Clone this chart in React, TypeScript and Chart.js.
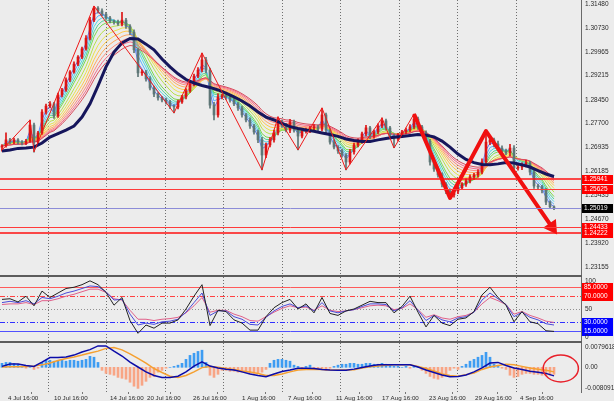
import React, { useEffect, useRef } from "react";
import { Chart, registerables } from "chart.js";
Chart.register(...registerables);

const FONT = '"Liberation Sans", Arial, sans-serif';
const BG = "#ececec";
const PIP = 0.0001;

// ---------- main panel (price) ----------
const firstOpen = 1.2695;
const closes = [
  1.2699, 1.2718, 1.2711, 1.2718, 1.2711, 1.2708, 1.2714, 1.2765, 1.2711, 1.2740,
  1.2806, 1.2825, 1.2832, 1.2794, 1.2860, 1.2876, 1.2908, 1.2933, 1.2958, 1.2980,
  1.3006, 1.3040, 1.3097, 1.3135, 1.3126, 1.3116, 1.3104, 1.3094, 1.3091, 1.3085,
  1.3097, 1.3078, 1.3059, 1.3003, 1.2930, 1.2933, 1.2911, 1.2882, 1.2863, 1.2851,
  1.2844, 1.2838, 1.2825, 1.2822, 1.2838, 1.2854, 1.2873, 1.2895, 1.2920, 1.2939,
  1.2971, 1.2939, 1.2828, 1.2797, 1.2854, 1.2857, 1.2854, 1.2844, 1.2832, 1.2819,
  1.2797, 1.2781, 1.2762, 1.2743, 1.2718, 1.2670, 1.2702, 1.2718, 1.2740, 1.2775,
  1.2765, 1.2749, 1.2775, 1.2749, 1.2730, 1.2746, 1.2749, 1.2756, 1.2759, 1.2752,
  1.2797, 1.2749, 1.2711, 1.2695, 1.2683, 1.2670, 1.2648, 1.2680, 1.2702, 1.2714,
  1.2737, 1.2756, 1.2730, 1.2743, 1.2762, 1.2778, 1.2756, 1.2730, 1.2721, 1.2733,
  1.2743, 1.2749, 1.2759, 1.2784, 1.2759, 1.2740, 1.2714, 1.2648, 1.2626, 1.2607,
  1.2578, 1.2556, 1.2544, 1.2556, 1.2566, 1.2578, 1.2588, 1.2601, 1.2607, 1.2616,
  1.2648, 1.2711, 1.2718, 1.2705, 1.2692, 1.2683, 1.2677, 1.2692, 1.2629, 1.2632,
  1.2639, 1.2645, 1.2616, 1.2572, 1.2569, 1.2559, 1.2521, 1.2506, 1.2502,
];
// upper / lower wick lengths in pips
const wickUp = [
  4, 22, 5, 6, 4, 5, 6, 16, 6, 5,
  8, 6, 7, 5, 6, 5, 6, 4, 7, 5,
  6, 8, 9, 6, 5, 7, 6, 5, 4, 6,
  25, 6, 5, 7, 4, 6, 5, 7, 6, 5,
  4, 6, 5, 4, 6, 5, 7, 5, 6, 8,
  22, 8, 6, 9, 10, 6, 5, 7, 6, 5,
  6, 5, 7, 5, 6, 8, 6, 7, 9, 16,
  6, 5, 8, 6, 5, 7, 6, 5, 7, 6,
  22, 6, 5, 7, 5, 6, 5, 8, 6, 7,
  6, 8, 5, 6, 7, 10, 6, 5, 7, 6,
  5, 6, 7, 16, 6, 5, 7, 6, 5, 6,
  7, 5, 6, 8, 6, 5, 7, 6, 5, 8,
  10, 35, 8, 6, 9, 7, 6, 12, 8, 10,
  6, 8, 5, 7, 6, 5, 6, 4, 3,
];
const wickDn = [
  13, 4, 6, 5, 7, 6, 5, 4, 32, 6,
  5, 7, 6, 8, 5, 6, 5, 6, 4, 5,
  5, 4, 6, 5, 7, 6, 5, 6, 7, 5,
  6, 7, 8, 9, 12, 8, 7, 6, 8, 7,
  6, 7, 8, 19, 6, 5, 6, 5, 6, 5,
  6, 9, 10, 16, 7, 6, 8, 7, 6, 8,
  7, 6, 8, 7, 9, 47, 8, 6, 7, 6,
  7, 6, 8, 7, 44, 6, 7, 8, 6, 7,
  6, 8, 7, 6, 8, 7, 25, 6, 7, 6,
  7, 6, 8, 7, 6, 5, 7, 8, 28, 6,
  7, 6, 5, 6, 8, 7, 9, 10, 8, 7,
  9, 8, 10, 7, 8, 6, 7, 6, 8, 7,
  6, 7, 8, 9, 7, 8, 6, 10, 9, 7,
  8, 7, 9, 8, 7, 9, 8, 6, 5,
];
// slow moving average (navy), one value every 2 bars
const navyMA = [
  1.2683, 1.2686, 1.2691, 1.2692, 1.2695, 1.2708, 1.2727, 1.2738, 1.2749, 1.2762,
  1.2790, 1.2832, 1.2889, 1.2949, 1.2996, 1.3025, 1.3039, 1.3037, 1.3021, 1.3003,
  1.2974, 1.2949, 1.2927, 1.2909, 1.2898, 1.2890, 1.2884, 1.2876, 1.2866, 1.2854,
  1.2841, 1.2825, 1.2806, 1.2790, 1.2781, 1.2770, 1.2760, 1.2754, 1.2749, 1.2745,
  1.2740, 1.2735, 1.2729, 1.2721, 1.2716, 1.2713, 1.2713, 1.2718, 1.2722, 1.2726,
  1.2729, 1.2732, 1.2735, 1.2733, 1.2727, 1.2714, 1.2695, 1.2673, 1.2656, 1.2646,
  1.2640, 1.2639, 1.2642, 1.2646, 1.2645, 1.2639, 1.2632, 1.2621, 1.2610, 1.2602,
];
const ribbonPeriods = [2, 3, 4, 5, 6, 8, 10, 12, 14, 16, 18, 20];
const ribbonColors = [
  "#5b7cff", "#58b4ff", "#4fd6e6", "#52d49a", "#7ad84e", "#b8e04a",
  "#e8e24a", "#ffc84a", "#ffa860", "#ff8a7a", "#f46a8a", "#d84a5a",
];
const zigBars = [0, 7, 8, 23, 43, 50, 65, 69, 74, 80, 86, 95, 98, 103];
const zigPrices = [1.2686, 1.2781, 1.2680, 1.3142, 1.2803, 1.2993, 1.2623, 1.2790, 1.2686, 1.2819, 1.2623, 1.2787, 1.2692, 1.2800];
const thickBars = [103, 112, 121, 137.5];
const thickPrices = [1.2800, 1.2534, 1.2746, 1.2442];
const levelPrices = [1.25941, 1.25625, 1.25019, 1.24433, 1.24222];
const levelLabels = ["1.25941", "1.25625", "1.25019", "1.24433", "1.24222"];
const levelColors = ["#ff1010", "#ff3a3a", "#8c8cd8", "#ff3a3a", "#ff1010"];
const levelWidths = [1.5, 1, 1, 1, 1.5];
const levelBoxes = ["#ff0000", "#ff0000", "#000000", "#ff0000", "#ff0000"];
const priceTicks = [1.3148, 1.3073, 1.29965, 1.29215, 1.2845, 1.277, 1.26935, 1.26185, 1.25435, 1.2467, 1.2392, 1.23155];
const MAIN_MIN = 1.22903;
const MAIN_MAX = 1.31607;

// ---------- RSI panel (one value every 2 bars) ----------
const rsiFast = [
  65, 66, 61, 70, 55, 78, 68, 75, 82, 84,
  88, 94, 88, 76, 56, 68, 32, 12, 25, 20,
  28, 28, 33, 50, 70, 88, 24, 48, 46, 33,
  28, 17, 17, 38, 52, 60, 65, 50, 58, 44,
  68, 43, 40, 47, 50, 56, 62, 60, 60, 44,
  54, 70, 45, 22, 40, 28, 24, 34, 36, 46,
  72, 84, 68, 56, 30, 46, 30, 27, 16, 15,
];
const rsiMid = [
  60, 62, 60, 63, 58, 68, 66, 70, 75, 78,
  82, 86, 85, 77, 64, 65, 42, 25, 28, 26,
  30, 31, 34, 45, 60, 75, 40, 47, 47, 38,
  34, 26, 25, 37, 47, 54, 58, 52, 55, 47,
  60, 47, 44, 47, 49, 54, 58, 58, 57, 47,
  52, 63, 48, 32, 40, 33, 30, 36, 38, 45,
  64, 75, 66, 57, 38, 45, 37, 33, 27, 25,
];
const rsiSlow = [
  57, 58, 58, 60, 57, 63, 63, 66, 70, 73,
  77, 81, 81, 76, 66, 64, 48, 34, 34, 32,
  34, 35, 37, 44, 55, 68, 45, 48, 48, 42,
  38, 32, 31, 38, 45, 51, 55, 52, 53, 48,
  55, 48, 46, 47, 49, 52, 55, 56, 55, 49,
  51, 58, 49, 37, 41, 36, 34, 38, 40, 45,
  58, 68, 63, 57, 42, 46, 40, 36, 31, 29,
];
const rsiLevels = [85, 70, 50, 30, 15];
const rsiLevelColors = ["#ff5a5a", "#ff4040", "#909090", "#3030ff", "#5050ff"];
const rsiLevelDash = [[], [5, 2, 1, 2], [1, 2], [5, 2, 1, 2], []];

// ---------- MACD panel ----------
const macdLine = [
  0.0003, 0.0011, 0.0011, 0.0006, 0.0003, 0.0017, 0.0032, 0.0032, 0.0034, 0.0040,
  0.0050, 0.0058, 0.0070, 0.0070, 0.0053, 0.0037, 0.0017, 0.0001, -0.0015, -0.0027,
  -0.0033, -0.0033, -0.0029, -0.0015, 0.0004, 0.0018, 0.0004, -0.0002, -0.0006, -0.0009,
  -0.0015, -0.0022, -0.0027, -0.0031, -0.0022, -0.0014, -0.0009, -0.0003, -0.0003, -0.0004,
  -0.0007, -0.0009, -0.0010, -0.0010, -0.0006, -0.0001, 0.0004, 0.0008, 0.0008, 0.0008,
  0.0008, 0.0008, 0.0001, -0.0009, -0.0017, -0.0025, -0.0031, -0.0030, -0.0025, -0.0015,
  -0.0002, 0.0014, 0.0016, 0.0006, -0.0002, -0.0007, -0.0013, -0.0016, -0.0020, -0.0028,
];
const macdSignal = [
  0.0001, 0.0002, 0.0002, 0.0003, 0.0004, 0.0008, 0.0014, 0.0022, 0.0029, 0.0034,
  0.0040, 0.0047, 0.0053, 0.0062, 0.0065, 0.0057, 0.0044, 0.0029, 0.0014, -0.0004,
  -0.0017, -0.0029, -0.0033, -0.0027, -0.0015, -0.0001, 0.0003, 0.0000, -0.0004, -0.0007,
  -0.0012, -0.0015, -0.0020, -0.0027, -0.0027, -0.0022, -0.0015, -0.0009, -0.0007, -0.0006,
  -0.0007, -0.0009, -0.0009, -0.0009, -0.0008, -0.0002, 0.0002, 0.0004, 0.0007, 0.0008,
  0.0008, 0.0008, 0.0003, -0.0004, -0.0012, -0.0022, -0.0027, -0.0029, -0.0024, -0.0019,
  -0.0007, 0.0001, 0.0006, 0.0010, 0.0008, 0.0003, -0.0002, -0.0006, -0.0010, -0.0015,
];
const macdHist = [
  0.0013, 0.0016, 0.0016, 0.0013, 0.0010, 0.0003, -0.0003, 0.0003, -0.0007, -0.0003,
  0.0016, 0.0023, 0.0023, 0.0020, 0.0020, 0.0023, 0.0020, 0.0023, 0.0023, 0.0020,
  0.0023, 0.0026, 0.0036, 0.0033, 0.0016, -0.0010, -0.0020, -0.0023, -0.0026, -0.0033,
  -0.0036, -0.0039, -0.0049, -0.0062, -0.0069, -0.0059, -0.0046, -0.0033, -0.0030, -0.0016,
  -0.0010, -0.0003, 0, 0.0003, 0.0007, 0.0013, 0.0026, 0.0039, 0.0046, 0.0052,
  0.0056, 0.0016, -0.0026, -0.0033, -0.0023, -0.0010, -0.0010, -0.0013, -0.0013, -0.0016,
  -0.0016, -0.0016, -0.0020, -0.0020, -0.0020, -0.0016, -0.0007, 0.0013, 0.0023, 0.0026,
  0.0026, 0.0023, 0.0020, 0.0007, 0.0003, -0.0003, 0.0003, 0.0007, -0.0003, -0.0007,
  -0.0007, -0.0010, -0.0003, 0.0003, 0.0007, 0.0010, 0.0010, 0.0013, 0.0013, 0.0010,
  0.0010, 0.0013, 0.0013, 0.0010, 0.0010, 0.0013, 0.0010, 0.0007, 0.0003, 0.0003,
  0, 0.0003, -0.0003, 0.0003, 0, -0.0010, -0.0020, -0.0030, -0.0036, -0.0039,
  -0.0033, -0.0023, -0.0010, -0.0003, -0.0007, 0.0003, 0.0010, 0.0020, 0.0026, 0.0033,
  0.0039, 0.0049, 0.0033, 0.0010, 0.0003, -0.0003, -0.0007, -0.0026, -0.0033, -0.0030,
  -0.0023, -0.0020, -0.0020, -0.0023, -0.0023, -0.0026, -0.0026, -0.0026, -0.0023,
];
const MACD_MAX = 0.0079618;
const MACD_MIN = -0.008091;
const ellipseBars = [135.3, 144.1];
const ellipseVals = [0.004, -0.0048];

// ---------- time axis ----------
const xLabels = [
  "4 Jul 16:00", "10 Jul 16:00", "14 Jul 16:00", "20 Jul 16:00", "26 Jul 16:00", "1 Aug 16:00",
  "7 Aug 16:00", "11 Aug 16:00", "17 Aug 16:00", "23 Aug 16:00", "29 Aug 16:00", "4 Sep 16:00",
];
const xLabelBars = [1.5, 13, 27, 36.25, 47.75, 60, 71.5, 83.5, 95, 106.75, 118.25, 129.5];
const gridBars = [11.4, 26.05, 40.7, 55.3, 69.9, 84.6, 99.2, 113.8, 128.4];
const X_MIN = -0.5;
const X_MAX = 144.75;

const BULL = "#dc1414";
const BEAR = "#5e7676";

function ema(src: number[], p: number) {
  const k = 2 / (p + 1);
  const out: number[] = [];
  src.forEach((v, i) => out.push(i === 0 ? v : out[i - 1] + k * (v - out[i - 1])));
  return out;
}

function xAxis(show: boolean): any {
  return {
    type: "linear",
    min: X_MIN,
    max: X_MAX,
    bounds: "data",
    offset: false,
    display: show,
    grid: { display: true, drawOnChartArea: false, drawTicks: true, tickLength: 2, color: "#777" },
    border: { display: false },
    afterBuildTicks: (s: any) => {
      s.ticks = xLabelBars.map((v) => ({ value: v }));
    },
    afterFit: (s: any) => {
      s.height = show ? 9 : 0;
    },
    ticks: {
      autoSkip: false,
      maxRotation: 0,
      minRotation: 0,
      align: "start",
      padding: 1,
      font: { family: FONT, size: 6.2 },
      color: "#2a2a2a",
      callback: (_v: any, i: number) => xLabels[i],
    },
  };
}

function yAxis(min: number, max: number): any {
  return {
    type: "linear",
    position: "right",
    min,
    max,
    bounds: "data",
    grid: { display: false },
    ticks: { display: false },
    border: { display: true, color: "#6a6a6a", width: 1 },
    afterFit: (s: any) => {
      s.width = 33;
    },
  };
}

const vGrid = {
  id: "vgrid",
  beforeDatasetsDraw(chart: any) {
    const { ctx, chartArea: ca, scales } = chart;
    ctx.save();
    ctx.strokeStyle = "#6e6e6e";
    ctx.lineWidth = 1;
    ctx.setLineDash([1, 2]);
    for (const b of gridBars) {
      const px = Math.round(scales.x.getPixelForValue(b)) + 0.5;
      ctx.beginPath();
      ctx.moveTo(px, ca.top);
      ctx.lineTo(px, ca.bottom);
      ctx.stroke();
    }
    ctx.restore();
  },
};

function hLines(id: string, values: number[], colors: string[], widths: number[], dashes: number[][], after: boolean) {
  const draw = (chart: any) => {
    const { ctx, chartArea: ca, scales } = chart;
    ctx.save();
    values.forEach((v, k) => {
      const y = Math.round(scales.y.getPixelForValue(v)) + (widths[k] % 2 === 1 ? 0.5 : 0);
      ctx.strokeStyle = colors[k];
      ctx.lineWidth = widths[k];
      ctx.setLineDash(dashes[k] || []);
      ctx.beginPath();
      ctx.moveTo(ca.left, y);
      ctx.lineTo(ca.right, y);
      ctx.stroke();
    });
    ctx.restore();
  };
  return after ? { id, afterDatasetsDraw: draw } : { id, beforeDatasetsDraw: draw };
}

type Lbl = { value: number; text: string; bg?: string; baseline?: string };
function rightLabels(id: string, labels: Lbl[]) {
  return {
    id,
    afterDraw(chart: any) {
      const { ctx, chartArea: ca, scales } = chart;
      ctx.save();
      ctx.font = `6.5px ${FONT}`;
      ctx.textAlign = "left";
      for (const l of labels) {
        let y = scales.y.getPixelForValue(l.value);
        if (l.bg) {
          const yy = Math.round(y);
          ctx.fillStyle = l.bg;
          ctx.fillRect(ca.right + 1, yy - 4, 31, 9);
          ctx.fillStyle = "#ffffff";
          ctx.textBaseline = "middle";
          ctx.fillText(l.text, ca.right + 3, yy + 0.5);
        } else {
          ctx.fillStyle = "#2a2a2a";
          if (l.baseline === "top") {
            ctx.textBaseline = "top";
            y += 1;
          } else if (l.baseline === "bottom") {
            ctx.textBaseline = "bottom";
            y -= 1;
          } else ctx.textBaseline = "middle";
          ctx.fillText(l.text, ca.right + 4, y);
        }
      }
      ctx.restore();
    },
  };
}

const ellipsePlugin = {
  id: "ellipse",
  afterDatasetsDraw(chart: any) {
    const { ctx, scales } = chart;
    const x0 = scales.x.getPixelForValue(ellipseBars[0]);
    const x1 = scales.x.getPixelForValue(ellipseBars[1]);
    const y0 = scales.y.getPixelForValue(ellipseVals[0]);
    const y1 = scales.y.getPixelForValue(ellipseVals[1]);
    ctx.save();
    ctx.strokeStyle = "#e8202a";
    ctx.lineWidth = 1.5;
    ctx.beginPath();
    ctx.ellipse((x0 + x1) / 2, (y0 + y1) / 2, Math.abs(x1 - x0) / 2, Math.abs(y1 - y0) / 2, 0, 0, Math.PI * 2);
    ctx.stroke();
    ctx.restore();
  },
};

const common: any = {
  responsive: false,
  maintainAspectRatio: false,
  animation: false,
  events: [],
  layout: { padding: 0, autoPadding: false },
  plugins: { legend: { display: false }, tooltip: { enabled: false } },
};

const line = (data: any[], color: string, width: number, order: number, extra: any = {}) => ({
  type: "line",
  data,
  borderColor: color,
  borderWidth: width,
  pointRadius: 0,
  tension: 0,
  fill: false,
  order,
  ...extra,
});

export default function App() {
  const mainRef = useRef<HTMLCanvasElement>(null);
  const rsiRef = useRef<HTMLCanvasElement>(null);
  const macdRef = useRef<HTMLCanvasElement>(null);

  useEffect(() => {
    const opens = closes.map((_c, i) => (i === 0 ? firstOpen : closes[i - 1]));
    const highs = closes.map((c, i) => Math.max(opens[i], c) + wickUp[i] * PIP);
    const lows = closes.map((c, i) => Math.min(opens[i], c) - wickDn[i] * PIP);
    const candleColors = closes.map((c, i) => (c >= opens[i] ? BULL : BEAR));
    const every2 = (arr: number[]) => arr.map((v, k) => ({ x: 2 * k, y: v }));

    const ribbon = ribbonPeriods.map((p, k) =>
      line(ema(closes, p).map((v, i) => ({ x: i, y: v })), ribbonColors[k], 1, 60 - k)
    );

    const main = new Chart(mainRef.current as HTMLCanvasElement, {
      type: "line",
      data: {
        datasets: [
          ...ribbon,
          {
            type: "bar",
            data: closes.map((_c, i) => ({ x: i, y: [lows[i], highs[i]] })),
            backgroundColor: candleColors,
            barThickness: 1,
            grouped: false,
            order: 30,
          },
          {
            type: "bar",
            data: closes.map((c, i) => ({ x: i, y: [opens[i], c] })),
            backgroundColor: candleColors,
            barThickness: 2,
            minBarLength: 1,
            grouped: false,
            order: 29,
          },
          line(every2(navyMA), "#16165c", 3, 10),
          line(zigBars.map((b, k) => ({ x: b, y: zigPrices[k] })), "#ee1818", 1, 5),
          line(thickBars.map((b, k) => ({ x: b, y: thickPrices[k] })), "#f01010", 4, 4, {
            pointRadius: thickBars.map((_b, k) => (k === thickBars.length - 1 ? 5 : 0)),
            pointStyle: "triangle",
            pointRotation: 145.5,
            pointBackgroundColor: "#f01010",
            pointBorderColor: "#f01010",
            borderJoinStyle: "round",
          }),
        ] as any,
      },
      options: { ...common, scales: { x: xAxis(false), y: yAxis(MAIN_MIN, MAIN_MAX) } },
      plugins: [
        vGrid,
        hLines("mainLevels", levelPrices, levelColors, levelWidths, [], true),
        rightLabels("mainLabels", [
          ...priceTicks.map((v) => ({ value: v, text: v.toFixed(5) })),
          ...levelPrices.map((v, k) => ({ value: v, text: levelLabels[k], bg: levelBoxes[k] })),
        ]),
      ],
    } as any);

    const rsi = new Chart(rsiRef.current as HTMLCanvasElement, {
      type: "line",
      data: {
        datasets: [
          line(every2(rsiSlow), "#e0608a", 1, 3),
          line(every2(rsiMid), "#4a4ad8", 1, 2),
          line(every2(rsiFast), "#222222", 1, 1),
        ] as any,
      },
      options: { ...common, scales: { x: xAxis(false), y: yAxis(0, 100) } },
      plugins: [
        vGrid,
        hLines("rsiLevels", rsiLevels, rsiLevelColors, [1, 1, 1, 1, 1], rsiLevelDash, false),
        rightLabels("rsiLabels", [
          { value: 100, text: "100", baseline: "top" },
          { value: 85, text: "85.0000", bg: "#ff0000" },
          { value: 70, text: "70.0000", bg: "#ff0000" },
          { value: 50, text: "50" },
          { value: 30, text: "30.0000", bg: "#0000ff" },
          { value: 15, text: "15.0000", bg: "#0000ff" },
          { value: 0, text: "0", baseline: "bottom" },
        ]),
      ],
    } as any);

    const macd = new Chart(macdRef.current as HTMLCanvasElement, {
      type: "line",
      data: {
        datasets: [
          {
            type: "bar",
            data: macdHist.map((v, i) => ({ x: i, y: v })),
            backgroundColor: macdHist.map((v) => (v >= 0 ? "#3d9cf2" : "#f8a585")),
            barThickness: 2,
            grouped: false,
            order: 10,
          },
          line(every2(macdSignal), "#f5a030", 1.5, 2),
          line(every2(macdLine), "#0c0ca8", 1.5, 1),
        ] as any,
      },
      options: { ...common, scales: { x: xAxis(true), y: yAxis(MACD_MIN, MACD_MAX) } },
      plugins: [
        vGrid,
        ellipsePlugin,
        rightLabels("macdLabels", [
          { value: MACD_MAX, text: "0.0079618", baseline: "top" },
          { value: 0, text: "0.00" },
          { value: MACD_MIN, text: "-0.008091", baseline: "bottom" },
        ]),
      ],
    } as any);

    return () => {
      main.destroy();
      rsi.destroy();
      macd.destroy();
    };
  }, []);

  const abs = (top: number, h: number): React.CSSProperties => ({
    position: "absolute",
    left: 0,
    top,
    width: 614,
    height: h,
  });

  return (
    <div style={{ position: "fixed", left: 0, top: 0, width: 614, height: 401, background: BG, overflow: "hidden" }}>
      <canvas ref={mainRef} width={614} height={275} style={abs(0, 275)} />
      <div style={{ position: "absolute", left: 0, top: 275, width: 582, height: 2, background: "#5c5c5c" }} />
      <canvas ref={rsiRef} width={614} height={64} style={abs(277, 64)} />
      <div style={{ position: "absolute", left: 0, top: 341, width: 582, height: 2, background: "#5c5c5c" }} />
      <canvas ref={macdRef} width={614} height={58} style={abs(343, 58)} />
    </div>
  );
}
